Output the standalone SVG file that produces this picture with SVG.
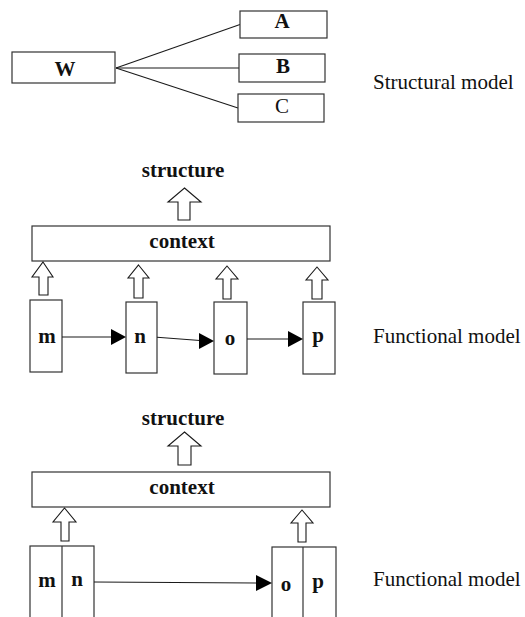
<svg xmlns="http://www.w3.org/2000/svg" width="525" height="617" viewBox="0 0 525 617">
  <style>
    .box { fill: #ffffff; stroke: #333333; stroke-width: 1.2; }
    .link { fill: none; stroke: #1a1a1a; stroke-width: 1.1; }
    .hollow { fill: #ffffff; stroke: #1a1a1a; stroke-width: 1.1; stroke-linejoin: miter; }
    .head { fill: #000000; stroke: none; }
    .bold { font-family: "Liberation Serif", "Times New Roman", serif; font-weight: bold; font-size: 21px; fill: #111111; text-anchor: middle; }
    .plain { font-family: "Liberation Serif", "Times New Roman", serif; font-size: 21px; fill: #111111; text-anchor: middle; }
    .label { font-family: "Liberation Serif", "Times New Roman", serif; font-size: 21px; fill: #111111; }
  </style>

  <!-- Structural model: W with its three parts -->
  <g id="connectors-structural">
    <line class="link" x1="116" y1="68" x2="240" y2="24.5"/>
    <line class="link" x1="116" y1="68" x2="239" y2="68"/>
    <line class="link" x1="116" y1="68" x2="238" y2="108"/>
  </g>
  <g id="node-W">
    <rect class="box" x="12" y="52" width="103" height="31"/>
    <text class="bold" x="65" y="76">W</text>
  </g>
  <g id="node-A">
    <rect class="box" x="240" y="11" width="87" height="27"/>
    <text class="bold" x="282" y="28">A</text>
  </g>
  <g id="node-B">
    <rect class="box" x="239" y="54" width="86" height="28"/>
    <text class="bold" x="283" y="73">B</text>
  </g>
  <g id="node-C">
    <rect class="box" x="238" y="94" width="86" height="28"/>
    <text class="plain" x="282" y="113">C</text>
  </g>
  <text class="label" x="373" y="89">Structural model</text>

  <!-- Functional model: m, n, o, p in sequence -->
  <g id="structure-1">
    <text class="bold" x="183" y="177">structure</text>
  </g>
  <g id="context-1">
    <rect class="box" x="32" y="226" width="298" height="35"/>
    <text class="bold" x="182" y="248">context</text>
  </g>
  <g id="node-m">
    <rect class="box" x="30" y="300" width="32" height="72"/>
    <text class="bold" x="47" y="343">m</text>
  </g>
  <g id="node-n">
    <rect class="box" x="126" y="302" width="31" height="71"/>
    <text class="bold" x="140" y="343">n</text>
  </g>
  <g id="node-o">
    <rect class="box" x="214" y="302" width="33" height="72"/>
    <text class="bold" x="230" y="345">o</text>
  </g>
  <g id="node-p">
    <rect class="box" x="303" y="302" width="32" height="72"/>
    <text class="bold" x="318" y="342">p</text>
  </g>
  <g id="connectors-functional-1">
    <polygon class="hollow" points="184.5,188 201,202 190,202 190,220 178,220 178,202 168,202"/>
    <polygon class="hollow" points="43,262 53,277 48,277 48,295 39,295 39,277 32,277"/>
    <polygon class="hollow" points="138.5,265 149,278 143,278 143,298 134,298 134,278 128,278"/>
    <polygon class="hollow" points="227,266 238,279 231,279 231,299 223,299 223,279 216,279"/>
    <polygon class="hollow" points="317,267 328,280 322,280 322,299 312,299 312,280 306,280"/>
    <line class="link" x1="62" y1="337" x2="112" y2="337"/>
    <polygon class="head" points="126,337 111,329 111,345"/>
    <line class="link" x1="157" y1="337.3" x2="200" y2="340.5"/>
    <polygon class="head" points="214,341 199,333 199,349"/>
    <line class="link" x1="247" y1="339" x2="289" y2="339"/>
    <polygon class="head" points="303,339 288,331 288,347"/>
  </g>
  <text class="label" x="373" y="343">Functional model</text>

  <!-- Functional model: merged m|n and o|p -->
  <g id="structure-2">
    <text class="bold" x="183" y="425">structure</text>
  </g>
  <g id="context-2">
    <rect class="box" x="32" y="472" width="298" height="35"/>
    <text class="bold" x="182" y="494">context</text>
  </g>
  <g id="node-mn">
    <rect class="box" x="30" y="546" width="64" height="80"/>
    <line class="box" x1="62" y1="546" x2="62" y2="626"/>
    <text class="bold" x="47" y="587">m</text>
    <text class="bold" x="77" y="586">n</text>
  </g>
  <g id="node-op">
    <rect class="box" x="272" y="547" width="64" height="80"/>
    <line class="box" x1="303" y1="547" x2="303" y2="627"/>
    <text class="bold" x="286" y="591">o</text>
    <text class="bold" x="318" y="588">p</text>
  </g>
  <g id="connectors-functional-2">
    <polygon class="hollow" points="184.5,432 201,446 191,446 191,465 178,465 178,446 168,446"/>
    <polygon class="hollow" points="64.5,508 76,522 69,522 69,541 61,541 61,522 53,522"/>
    <polygon class="hollow" points="302,510 313,523 306,523 306,542 298,542 298,523 291,523"/>
    <line class="link" x1="94" y1="582" x2="257" y2="583"/>
    <polygon class="head" points="272,583 256,575 256,591"/>
  </g>
  <text class="label" x="373" y="586">Functional model</text>
</svg>
